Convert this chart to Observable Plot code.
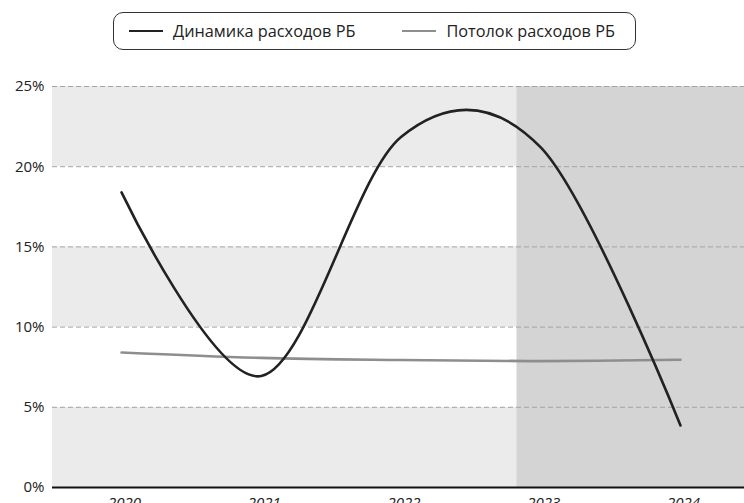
<!DOCTYPE html>
<html>
<head>
<meta charset="utf-8">
<script src="https://cdn.jsdelivr.net/npm/d3@7"></script>
<script src="https://cdn.jsdelivr.net/npm/@observablehq/plot@0.6"></script>
<style>
  html, body { margin: 0; padding: 0; background: #fff; }
  body { width: 744px; height: 503px; overflow: hidden; font-family: "Open Sans", sans-serif; color: #222; }
  #legendWrap { height: 70px; position: relative; }
  #legend { position: absolute; left: 113px; top: 12px; width: 521px; height: 36px; border: 1px solid #333; border-radius: 10px; display: flex; align-items: center; box-sizing: content-box; }
  .item { display: flex; align-items: center; font-size: 16.3px; white-space: nowrap; }
  .swatch { display: inline-block; width: 34px; height: 2.5px; margin-right: 10px; }
</style>
</head>
<body>
<div id="legendWrap"><div id="legend"></div></div>
<div id="chart"></div>
<script>
// ---- data ----
const years = [2020, 2021, 2022, 2023, 2024];
const yearLabels = ["2020", "2021", "2022", "2023", "2024"];
const spending = [18.4, 6.95, 21.85, 21.2, 3.87];     // Динамика расходов РБ, %
const ceiling = [8.42, 8.08, 7.95, 7.88, 7.96];       // Потолок расходов РБ, %
const yTicks = [0, 5, 10, 15, 20, 25];
const bandStarts = [0, 10, 20];                       // shaded horizontal bands (5 pp wide)
const forecastStart = 2022.83;                        // darker shaded region start
const seriesNames = ["Динамика расходов РБ", "Потолок расходов РБ"];
const seriesColors = ["#222222", "#8e8e8e"];

const xDomain = [2019.506, 2024.458];
const yDomain = [0, 25];

const rows = [];
years.forEach((y, i) => {
  rows.push({year: y, value: spending[i], series: seriesNames[0]});
  rows.push({year: y, value: ceiling[i], series: seriesNames[1]});
});
const bands = bandStarts.map(b => ({y1: b, y2: b + 5}));

const chart = Plot.plot({
  width: 744,
  height: 433,
  marginLeft: 52,
  marginRight: 0,
  marginTop: 16,
  marginBottom: 16,
  style: {fontFamily: "'Open Sans', sans-serif", fontSize: "15px", color: "#222", background: "transparent", overflow: "visible"},
  x: {domain: xDomain, type: "linear"},
  y: {domain: yDomain},
  marks: [
    Plot.rect(bands, {x1: () => xDomain[0], x2: () => xDomain[1], y1: "y1", y2: "y2", fill: "#ebebeb"}),
    Plot.rect([yDomain], {x1: () => forecastStart, x2: () => xDomain[1], y1: d => d[0], y2: d => d[1], fill: "#d4d4d4"}),
    Plot.ruleY(yTicks.filter(d => d > 0), {stroke: "#a3a3a3", strokeWidth: 1, strokeDasharray: "5,3"}),
    Plot.ruleY([0], {stroke: "#111", strokeWidth: 2}),
    Plot.line(rows.filter(d => d.series === seriesNames[1]), {x: "year", y: "value", stroke: seriesColors[1], strokeWidth: 2.6, curve: "cardinal"}),
    Plot.line(rows.filter(d => d.series === seriesNames[0]), {x: "year", y: "value", stroke: seriesColors[0], strokeWidth: 2.6, curve: "cardinal"}),
    Plot.axisY(yTicks, {tickSize: 0, tickPadding: 8, tickFormat: d => d + "%", label: null, fill: "#222"}),
    Plot.axisX(years, {tickSize: 0, tickPadding: 10, dx: 3, tickFormat: (d, i) => yearLabels[i], label: null, fontStyle: "italic", fill: "#222"})
  ]
});
document.getElementById("chart").appendChild(chart);

// legend
const legend = document.getElementById("legend");
seriesNames.forEach((name, i) => {
  const item = document.createElement("div");
  item.className = "item";
  item.style.marginLeft = i === 0 ? "15px" : "47px";
  const sw = document.createElement("span");
  sw.className = "swatch";
  sw.style.background = seriesColors[i];
  item.appendChild(sw);
  item.appendChild(document.createTextNode(name));
  legend.appendChild(item);
});
</script>
</body>
</html>
